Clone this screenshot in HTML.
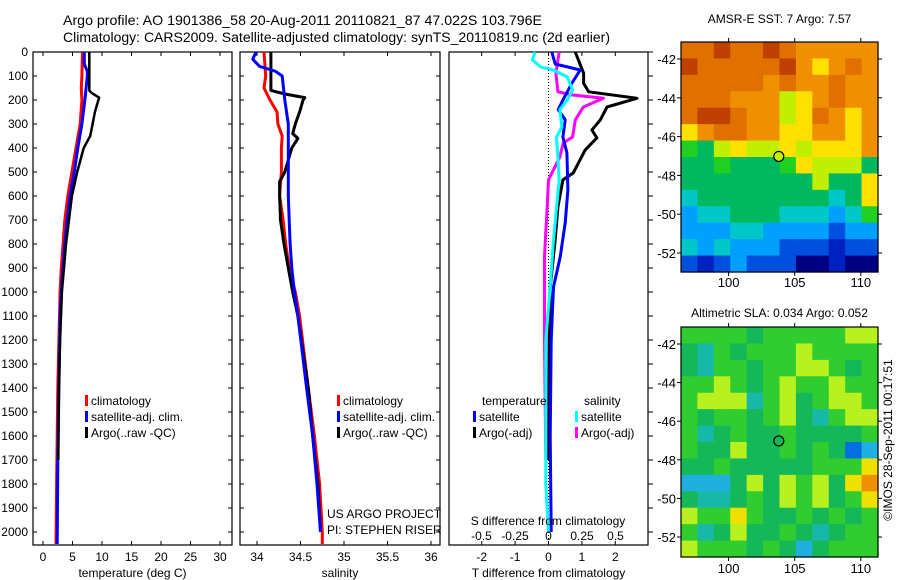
<!DOCTYPE html>
<html><head><meta charset="utf-8">
<style>
html,body{margin:0;padding:0;background:#fff;}
svg{display:block;font-family:"Liberation Sans",sans-serif;}
</style></head>
<body>
<svg id="chart" width="900" height="580" viewBox="0 0 900 580" xmlns="http://www.w3.org/2000/svg">
<text x="63" y="25" font-size="14" textLength="479" lengthAdjust="spacingAndGlyphs">Argo profile: AO 1901386_58 20-Aug-2011 20110821_87 47.022S 103.796E</text>
<text x="63" y="42" font-size="14" textLength="547" lengthAdjust="spacingAndGlyphs">Climatology: CARS2009. Satellite-adjusted climatology: synTS_20110819.nc (2d earlier)</text>
<g id="g"></g>
</svg>
<script>
// ---------- data ----------
const depthTicks = [0,100,200,300,400,500,600,700,800,900,1000,1100,1200,1300,1400,1500,1600,1700,1800,1900,2000];
const tempTicks = [0,5,10,15,20,25,30];
const salTicks = [34,34.5,35,35.5,36];
const tdiffTicks = [-2,-1,0,1,2];
const sdiffTicks = [-0.5,-0.25,0,0.25,0.5];
const sdiffTickLabels = ['-0.5','-0.25','0','0.25','0.5'];

const tClimDepth = [0,100,150,200,300,400,500,600,700,800,900,1000,1200,1400,1600,1800,2050];
const tClim      = [6.7,6.6,6.5,6.6,6.3,5.6,4.9,4.2,3.7,3.4,3.1,2.9,2.7,2.5,2.4,2.3,2.2];
const tSatDepth  = [0,50,80,100,200,300,400,500,600,700,800,900,1000,1100,1400,1700,2050];
const tSat       = [7.0,7.0,7.5,7.5,7.1,6.6,5.9,5.3,4.6,4.1,3.7,3.4,3.1,2.9,2.7,2.5,2.4];
const tArgoDepth = [0,160,170,190,250,300,350,400,500,600,800,1000,1200,1400,1700];
const tArgo      = [7.85,7.85,8.2,9.5,8.8,8.4,8.0,6.9,5.8,4.9,3.9,3.2,2.9,2.7,2.6];

const sClimDepth = [0,100,150,200,250,300,350,400,500,600,700,800,900,1000,1100,1400,1600,1800,2000,2050];
const sClim      = [34.08,34.10,34.08,34.15,34.23,34.24,34.29,34.28,34.28,34.26,34.30,34.33,34.37,34.44,34.49,34.59,34.66,34.72,34.75,34.75];
const sSatDepth  = [0,30,60,80,100,200,300,400,600,800,900,1000,1100,1400,1600,1800,2000];
const sSat       = [33.99,33.95,34.03,34.21,34.29,34.32,34.36,34.36,34.36,34.38,34.40,34.43,34.47,34.57,34.64,34.69,34.73];
const sArgoDepth = [0,160,175,190,200,250,300,340,360,400,450,500,540,600,700,800,900,1000,1100,1400,1600,1800,2000];
const sArgo      = [34.16,34.16,34.32,34.55,34.53,34.49,34.44,34.41,34.47,34.40,34.36,34.32,34.26,34.26,34.27,34.31,34.36,34.41,34.47,34.59,34.64,34.70,34.73];

const dTSatDepth = [0,50,75,130,200,240,283,354,420,575,712,854,979,1200,1600,2000];
const dTSat      = [0.1,0.2,0.95,0.7,0.43,0.29,0.5,0.43,0.55,0.58,0.5,0.35,0.15,0.08,0.05,0.08];
const dTArgoDepth= [0,88,130,166,193,229,283,325,358,408,504,533,646,783,979,1200,1700];
const dTArgo     = [0.8,1.05,1.05,1.2,2.65,1.75,1.55,1.3,1.45,1.1,0.74,0.43,0.28,0.2,0.05,0.02,0.0];
const dSArgoDepth= [0,88,166,179,193,229,283,354,379,437,533,646,850,1200,1700];
const dSArgo     = [0.08,0.055,0.07,0.18,0.41,0.26,0.2,0.18,0.11,0.085,0.0,-0.01,-0.03,-0.03,-0.02];
const dSSatDepth = [0,33,62,75,104,158,200,240,312,354,437,533,650,800,1000,1200,1500,1800,2000];
const dSSat      = [-0.1,-0.12,-0.06,0.035,0.14,0.18,0.14,0.085,0.1,0.06,0.07,0.08,0.06,0.035,0.01,-0.02,-0.02,-0.02,0.0];

const sstGrid = [
[10,10,11,10,10,11,10,9,9,9,9,9],
[11,10,10,10,10,10,11,9,8,9,10,9],
[10,10,10,10,10,9,10,9,9,10,9,9],
[10,10,10,9,9,9,7,8,9,10,9,9],
[10,11,11,10,9,9,7,8,10,9,8,9],
[8,9,10,10,9,9,8,8,9,9,8,9],
[6,5,7,8,7,7,8,7,8,8,8,9],
[5,5,6,5,5,5,6,8,7,7,7,5],
[5,5,5,5,5,5,5,5,7,5,5,8],
[4,5,5,5,5,5,5,5,5,4,5,8],
[3,4,4,5,5,5,4,4,4,3,4,6],
[3,3,3,4,4,3,3,3,3,2,3,3],
[4,3,4,3,3,3,2,2,2,1,2,2],
[2,1,2,3,2,2,2,0,0,1,0,0]];
const slaGrid = [
[6,6,6,6,5,6,6,6,6,6,7,7],
[5,4,6,5,6,6,6,7,6,6,6,6],
[5,4,6,6,5,6,6,7,7,6,5,6],
[6,6,7,6,5,6,7,6,6,7,6,6],
[6,7,7,7,4,6,7,5,6,7,7,6],
[6,5,6,6,5,6,7,5,4,6,7,7],
[6,4,5,6,5,5,6,5,5,5,5,6],
[6,5,5,7,5,5,6,5,6,5,2,3],
[5,5,6,5,5,5,5,5,6,6,6,8],
[3,3,3,5,7,5,7,6,7,5,8,9],
[5,4,4,5,6,5,7,6,7,5,6,8],
[7,6,6,8,6,5,5,6,5,6,5,6],
[6,4,5,7,5,5,6,5,4,5,6,6],
[7,6,6,6,5,6,5,3,5,6,6,6]];
const latTicks = [-42,-44,-46,-48,-50,-52];
const lonTicks = [100,105,110];
const argoLon = 103.796, argoLat = -47.022;

// ---------- helpers ----------
const NS='http://www.w3.org/2000/svg';
const G=document.getElementById('g');
function mk(tag,attrs,parent){const e=document.createElementNS(NS,tag);for(const k in attrs)e.setAttribute(k,attrs[k]);(parent||G).appendChild(e);return e;}
const palette=['#000080','#0020c0','#0050e0','#00a0ff','#00c8c8','#00b860','#20d020','#c0f000','#ffe000','#f09000','#e07000','#c04000'];
const slaPalette=['#000080','#0030c0','#0070e0','#20b0e0','#18b8a8','#14b858','#30cc30','#b8f020','#f0e000','#f09000','#d06000','#b04000'];

const Y0=52, DY=0.24;
const dY=d=>Y0+d*DY;
const panels=[
 {x0:33,x1:232,fx:v=>43+v*5.9,ticks:tempTicks,labels:tempTicks.map(String),label:'temperature (deg C)',name:'temperature'},
 {x0:240,x1:440,fx:v=>257+(v-34)*87,ticks:salTicks,labels:salTicks.map(String),label:'salinity',name:'salinity'},
 {x0:449,x1:648,fx:v=>548.5+v*33.4,ticks:tdiffTicks,labels:tdiffTicks.map(String),label:'T difference from climatology',name:'difference'}];
const fS=v=>548.5+v*134;
const BOT=545;

panels.forEach((p,i)=>{
  const fr=mk('rect',{x:p.x0,y:Y0,width:p.x1-p.x0,height:BOT-Y0,fill:'none',stroke:'#000','stroke-width':1.2});
  
  
  depthTicks.forEach(d=>{
    const y=dY(d);
    if(i<2){mk('line',{x1:p.x0,x2:p.x0+4,y1:y,y2:y,stroke:'#000'});}
    if(i<2){mk('line',{x1:p.x1-4,x2:p.x1,y1:y,y2:y,stroke:'#000'});}
    if(i==2){mk('line',{x1:p.x1,x2:p.x1+5,y1:y,y2:y,stroke:'#000'});}
    if(i==0){const t=mk('text',{x:28,y:y+4,'font-size':12,'text-anchor':'end'});t.textContent=d;
      }
  });
  p.ticks.forEach((v,k)=>{
    const x=p.fx(v);
    mk('line',{x1:x,x2:x,y1:BOT,y2:BOT-4,stroke:'#000'});
    mk('line',{x1:x,x2:x,y1:Y0,y2:Y0+4,stroke:'#000'});
    const t=mk('text',{x:x,y:BOT+16,'font-size':12,'text-anchor':'middle'});t.textContent=p.labels[k];
    
  });
  const t=mk('text',{x:(p.x0+p.x1)/2,y:577,'font-size':12,'text-anchor':'middle'});t.textContent=p.label;
  
});
mk('line',{x1:548.5,x2:548.5,y1:Y0,y2:BOT,stroke:'#000','stroke-dasharray':'1,2'});

function step(xs,ds,fx,color,w,name){
  let pts=[];
  for(let i=0;i<xs.length;i++){pts.push(fx(xs[i]).toFixed(1)+','+dY(ds[i]).toFixed(1));}
  const pl=mk('polyline',{points:pts.join(' '),fill:'none',stroke:color,'stroke-width':w,'stroke-linejoin':'round'});
  
  
}
step(tClim,tClimDepth,panels[0].fx,'#ff0000',3,'temperature-climatology-line');
step(tSat,tSatDepth,panels[0].fx,'#0000ff',3,'temperature-satellite-line');
step(tArgo,tArgoDepth,panels[0].fx,'#000',2.5,'temperature-argo-line');
step(sClim,sClimDepth,panels[1].fx,'#ff0000',3,'salinity-climatology-line');
step(sArgo,sArgoDepth,panels[1].fx,'#000',3,'salinity-argo-line');
step(sSat,sSatDepth,panels[1].fx,'#0000ff',3,'salinity-satellite-line');
step(dSArgo,dSArgoDepth,fS,'#ff00ff',3,'sdiff-argo-line');
step(dTArgo,dTArgoDepth,panels[2].fx,'#000',3,'tdiff-argo-line');
step(dTSat,dTSatDepth,panels[2].fx,'#0000ff',3,'tdiff-satellite-line');
step(dSSat,dSSatDepth,fS,'#00ffff',3,'sdiff-satellite-line');

sdiffTicks.forEach((v,k)=>{const t=mk('text',{x:fS(v),y:540,'font-size':12,'text-anchor':'middle'});t.textContent=sdiffTickLabels[k];
  });
function txt(x,y,s,name,anchor){const t=mk('text',{x:x,y:y,'font-size':12,'text-anchor':anchor||'start'});t.textContent=s;
  return t;}
txt(548,525,'S difference from climatology','sdiff-axis-title','middle');
txt(327,518,'US ARGO PROJECT','project-label');
txt(327,534,'PI: STEPHEN RISER','pi-label');

function legend(x,y,color,label,name){
  const r=mk('rect',{x:x,y:y-10,width:3,height:11,fill:color});
  
  txt(x+6,y,label,name);
}
[[85,'temperature'],[337,'salinity']].forEach(([lx,n])=>{
  legend(lx,405,'#ff0000','climatology',n+'-legend-climatology');
  legend(lx,421,'#0000ff','satellite-adj. clim.',n+'-legend-satellite');
  legend(lx,437,'#000','Argo(..raw -QC)',n+'-legend-argo');
});
txt(482,405,'temperature','diff-legend-temperature-header');
txt(584,405,'salinity','diff-legend-salinity-header');
legend(473,421,'#0000ff','satellite','diff-legend-t-satellite');
legend(473,437,'#000','Argo(-adj)','diff-legend-t-argo');
legend(575,421,'#00ffff','satellite','diff-legend-s-satellite');
legend(575,437,'#ff00ff','Argo(-adj)','diff-legend-s-argo');

// ---------- maps ----------
const LON0=96.4, LON1=111.3;
function map(grid,pal,top,bot,lat42y,lat52y,title,titleY,name){
  const X0=681,X1=878;
  const ppd=(lat52y-lat42y)/10;
  const fy=lat=>lat42y+(-42-lat)*ppd;
  const fx=lon=>X0+(lon-LON0)*(X1-X0)/(LON1-LON0);
  const rows=grid.length, cols=grid[0].length;
  const cw=(X1-X0)/cols, ch=(bot-top)/rows;
  for(let r=0;r<rows;r++)for(let c=0;c<cols;c++){
    const cell=mk('rect',{x:X0+c*cw,y:top+r*ch,width:cw+0.6,height:ch+0.6,fill:pal[grid[r][c]]});
    
    
  }
  const fr=mk('rect',{x:X0,y:top,width:X1-X0,height:bot-top,fill:'none',stroke:'#000','stroke-width':1.2});
  
  latTicks.forEach(l=>{const y=fy(l);
    mk('line',{x1:X0-4,x2:X0,y1:y,y2:y,stroke:'#000'});mk('line',{x1:X1,x2:X1+4,y1:y,y2:y,stroke:'#000'});
    txt(676,y+5,String(l),name+'-lat-label','end').setAttribute('font-size','13');});
  lonTicks.forEach(l=>{const x=fx(l);
    mk('line',{x1:x,x2:x,y1:top-4,y2:top,stroke:'#000'});mk('line',{x1:x,x2:x,y1:bot,y2:bot+4,stroke:'#000'});});
  const c=mk('circle',{cx:fx(argoLon),cy:fy(argoLat),r:5,fill:pal[grid[Math.floor((fy(argoLat)-top)/ch)][Math.floor((fx(argoLon)-X0)/cw)]],stroke:'#000','stroke-width':1.2});
  
  txt((X0+X1)/2,titleY,title,name+'-title','middle');
  return fx;
}
const fx1=map(sstGrid,palette,42,272,59,253,'AMSR-E SST: 7 Argo: 7.57',23,'sst-map');
lonTicks.forEach(l=>txt(fx1(l),287,String(l),'sst-map-lon-label','middle').setAttribute('font-size','13'));
const fx2=map(slaGrid,slaPalette,327,557,344,537,'Altimetric SLA: 0.034 Argo: 0.052',317,'sla-map');
lonTicks.forEach(l=>txt(fx2(l),573,String(l),'sla-map-lon-label','middle').setAttribute('font-size','13'));
const cr=txt(0,0,'©IMOS 28-Sep-2011 00:17:51','imos-credit','middle');
cr.setAttribute('transform','translate(892,440) rotate(-90)');
</script>
</body></html>
